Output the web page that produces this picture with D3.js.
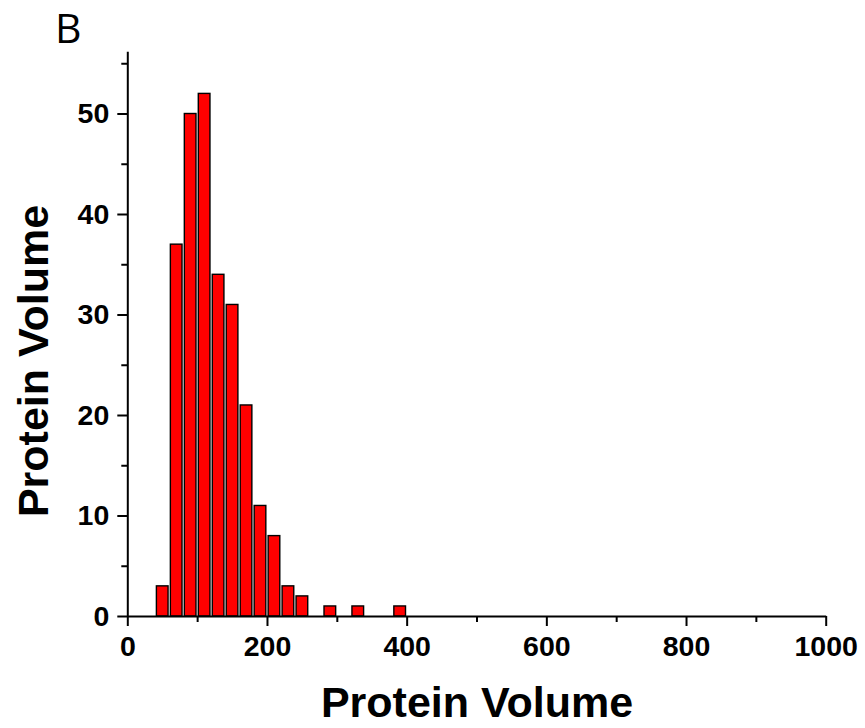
<!DOCTYPE html>
<html>
<head>
<meta charset="utf-8">
<script src="https://cdn.jsdelivr.net/npm/d3@7"></script>
<style>
  body { margin: 0; background: #fff; }
  svg { display: block; }
  .tick text { font-family: "Liberation Sans", Arial, sans-serif; font-weight: bold; }
</style>
</head>
<body>
<svg id="chart" width="865" height="728"></svg>
<script>
// histogram bins (centre of each bin) and counts
var binCenters = [50, 70, 90, 110, 130, 150, 170, 190, 210, 230, 250, 290, 330, 390];
var counts = [3, 37, 50, 52, 34, 31, 21, 11, 8, 3, 2, 1, 1, 1];
var xTicks = [0, 200, 400, 600, 800, 1000];
var xMinor = [100, 300, 500, 700, 900];
var yTicks = [0, 10, 20, 30, 40, 50];
var yMinor = [5, 15, 25, 35, 45, 55];
var xTitle = 'Protein Volume';
var yTitle = 'Protein Volume';
var panelLabel = 'B';

var svg = d3.select('#chart');
var binWidth = 16.7;

var x = d3.scaleLinear().domain([0, 1000]).range([127.3, 825.7]);
var y = d3.scaleLinear().domain([0, 50]).range([616, 113.5]);
var yTop = 56.2;

var bars = svg.append('g');
bars.selectAll('rect')
    .data(binCenters)
    .enter().append('rect')
    .attr('x', function (d) { return x(d - binWidth / 2); })
    .attr('width', function (d) { return x(d + binWidth / 2) - x(d - binWidth / 2); })
    .attr('y', function (d, i) { return y(counts[i]); })
    .attr('height', function (d, i) { return y(0) - y(counts[i]); })
    .style('fill', '#ff0000')
    .style('stroke', '#000')
    .style('stroke-width', 1.4);

// minor ticks first, then major axis on top
svg.append('g')
    .attr('transform', 'translate(0,' + y(0) + ')')
    .call(d3.axisBottom(x).tickValues(xMinor).tickSize(6).tickFormat(''))
    .call(function (g) { g.select('.domain').remove(); })
    .selectAll('line').style('stroke-width', 2);

var xAxis = svg.append('g')
    .attr('transform', 'translate(0,' + y(0) + ')')
    .call(d3.axisBottom(x).tickValues(xTicks).tickSize(10).tickSizeOuter(0).tickPadding(10).tickFormat(d3.format('d')));
xAxis.select('.domain').style('stroke-width', 2);
xAxis.selectAll('line').style('stroke-width', 2);
xAxis.selectAll('text').style('font-size', '28.5px').style('fill', '#000');

var yScaleFull = y.copy().domain([0, yTop]).range([y(0), y(yTop)]);

svg.append('g')
    .attr('transform', 'translate(' + x(0) + ',0)')
    .call(d3.axisLeft(y).tickValues(yMinor).tickSize(6).tickFormat(''))
    .call(function (g) { g.select('.domain').remove(); })
    .selectAll('line').style('stroke-width', 2);

var yAxis = svg.append('g')
    .attr('transform', 'translate(' + x(0) + ',0)')
    .call(d3.axisLeft(yScaleFull).tickValues(yTicks).tickSize(10).tickSizeOuter(0).tickPadding(8).tickFormat(d3.format('d')));
yAxis.select('.domain').style('stroke-width', 2);
yAxis.selectAll('line').style('stroke-width', 2);
yAxis.selectAll('text').style('font-size', '28.5px').style('fill', '#000');

svg.append('text')
    .attr('x', 477)
    .attr('y', 717)
    .attr('text-anchor', 'middle')
    .style('font-family', '"Liberation Sans", Arial, sans-serif')
    .style('font-weight', 'bold')
    .style('font-size', '43px')
    .text(xTitle);

svg.append('text')
    .attr('transform', 'translate(48,361) rotate(-90)')
    .attr('text-anchor', 'middle')
    .style('font-family', '"Liberation Sans", Arial, sans-serif')
    .style('font-weight', 'bold')
    .style('font-size', '43px')
    .text(yTitle);

svg.append('text')
    .attr('x', 55)
    .attr('y', 43)
    .style('font-family', '"Open Sans", sans-serif')
    .style('font-size', '41px')
    .text(panelLabel);
</script>
</body>
</html>
